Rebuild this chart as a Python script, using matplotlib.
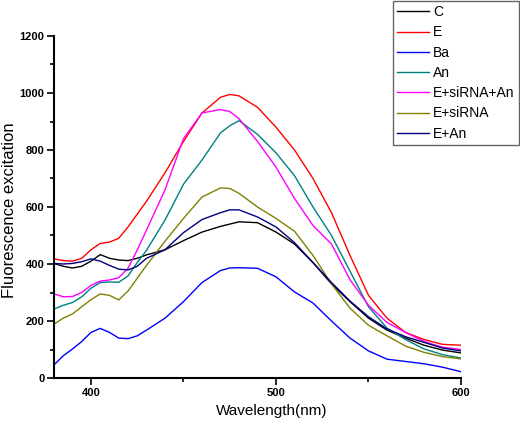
import matplotlib
matplotlib.use("Agg")
import matplotlib.pyplot as plt
from matplotlib.ticker import MultipleLocator

plt.rcParams['font.family'] = ['Liberation Sans', 'DejaVu Sans']

# wavelength grid (nm)
wavelength = [380, 385, 390, 395, 400, 405, 410, 415, 420, 425, 430, 440, 450,
              460, 470, 475, 480, 490, 500, 510, 520, 530, 540, 550, 560, 570,
              580, 590, 600]

c_vals = [402, 392, 386, 392, 410, 433, 420, 414, 412, 420, 432, 450, 482,
          512, 532, 540, 548, 545, 512, 470, 405, 330, 268, 210, 168, 140,
          115, 98, 88]
e_vals = [418, 412, 410, 420, 450, 472, 477, 490, 530, 575, 620, 720, 830,
          930, 985, 995, 990, 950, 880, 800, 700, 580, 430, 290, 210, 160,
          135, 118, 115]
ba_vals = [46, 78, 102, 128, 160, 174, 160, 140, 138, 148, 168, 210, 268,
           335, 377, 386, 387, 385, 355, 302, 263, 200, 140, 95, 66, 58,
           50, 38, 22]
an_vals = [242, 255, 265, 285, 315, 335, 337, 336, 358, 405, 448, 554, 680,
           765, 860, 885, 903, 855, 790, 710, 600, 500, 375, 250, 175, 135,
           102, 82, 70]
e_sirna_an_vals = [295, 285, 286, 300, 325, 340, 344, 352, 385, 449, 519, 660,
                   840, 930, 942, 935, 910, 830, 740, 630, 535, 470, 345, 255,
                   195, 160, 128, 108, 100]
e_sirna_vals = [189, 210, 225, 250, 275, 295, 290, 274, 305, 350, 395, 480,
                560, 635, 667, 665, 648, 600, 560, 515, 430, 330, 245, 185,
                148, 112, 90, 75, 67]
e_an_vals = [402, 400, 402, 408, 418, 410, 395, 382, 379, 392, 420, 450, 510,
             556, 580, 590, 590, 565, 530, 475, 405, 335, 270, 215, 172, 145,
             125, 105, 95]

labels = ["C", "E", "Ba", "An", "E+siRNA+An", "E+siRNA", "E+An"]
colors = ["#000000", "#ff0000", "#0000ff", "#008080", "#ff00ff", "#808000", "#000080"]
series = [c_vals, e_vals, ba_vals, an_vals, e_sirna_an_vals, e_sirna_vals, e_an_vals]

fig = plt.figure(figsize=(5.2, 4.21), dpi=100)
ax = fig.add_axes([54 / 520, 43 / 421, 407 / 520, 342 / 421])

for vals, lab, col in zip(series, labels, colors):
    ax.plot(wavelength, vals, color=col, lw=1.0, label=lab)

ax.set_xlim(380, 600)
ax.set_ylim(0, 1200)
ax.xaxis.set_major_locator(MultipleLocator(100))
ax.xaxis.set_minor_locator(MultipleLocator(50))
ax.yaxis.set_major_locator(MultipleLocator(200))
ax.yaxis.set_minor_locator(MultipleLocator(100))
ax.tick_params(which='major', direction='out', length=5, width=1.2, labelsize=8, pad=2)
ax.tick_params(which='minor', direction='out', length=3, width=1.2)
for lab in ax.get_xticklabels() + ax.get_yticklabels():
    lab.set_fontweight('bold')

ax.spines['top'].set_visible(False)
ax.spines['right'].set_visible(False)
ax.spines['left'].set_linewidth(1.5)
ax.spines['bottom'].set_linewidth(1.5)

ax.set_xlabel("Wavelength(nm)", fontsize=11)
ax.set_ylabel("Fluorescence excitation", fontsize=12)
ax.xaxis.set_label_coords((272 - 54) / 407, -0.075)
ax.yaxis.set_label_coords(-0.09, 0.49)

leg = fig.legend(loc='upper right', bbox_to_anchor=(519 / 520, 420 / 421),
                 bbox_transform=fig.transFigure, fontsize=10, frameon=True,
                 fancybox=False, borderaxespad=0, borderpad=0.3, labelspacing=0.45,
                 handlelength=2.3, handletextpad=0.3)
leg.get_frame().set_edgecolor('#404040')
leg.get_frame().set_linewidth(1.0)

fig.savefig("out.png", dpi=100)
